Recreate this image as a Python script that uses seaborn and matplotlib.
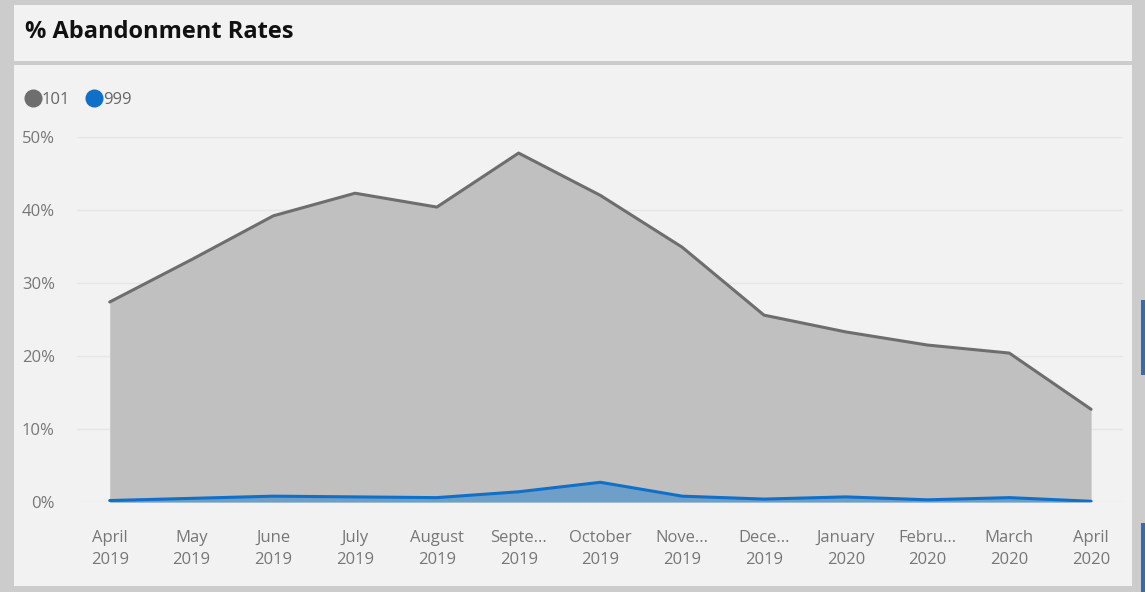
import pandas as pd
import seaborn as sns
import matplotlib.pyplot as plt
from matplotlib.patches import Rectangle
from matplotlib.lines import Line2D
from matplotlib.ticker import FuncFormatter

months = ["April\n2019", "May\n2019", "June\n2019", "July\n2019", "August\n2019",
          "Septe...\n2019", "October\n2019", "Nove...\n2019", "Dece...\n2019",
          "January\n2020", "Febru...\n2020", "March\n2020", "April\n2020"]
rate_101 = [27.4, 33.2, 39.2, 42.3, 40.4, 47.8, 42.0, 34.9, 25.6, 23.3, 21.5, 20.4, 12.7]
rate_999 = [0.2, 0.5, 0.8, 0.7, 0.6, 1.4, 2.7, 0.8, 0.4, 0.7, 0.3, 0.6, 0.1]
series_names = ["101", "999"]
series_colors = {"101": "#6e6e6e", "999": "#1070c8"}
fill_colors = {"101": "#c0c0c0", "999": "#6e9fc8"}

df = pd.DataFrame({
    "idx": list(range(len(months))) * 2,
    "rate": rate_101 + rate_999,
    "series": ["101"] * len(months) + ["999"] * len(months),
})

sns.set_theme(style="white")
plt.rcParams["font.family"] = ["Open Sans", "DejaVu Sans"]

W, H = 1145, 592
fig = plt.figure(figsize=(W / 100, H / 100), dpi=100)
fig.patch.set_facecolor("#cccccc")

# panels (pixel coordinates from top-left)
def px_rect(x0, y0, x1, y1, color, **kw):
    fig.patches.append(Rectangle((x0 / W, 1 - y1 / H), (x1 - x0) / W, (y1 - y0) / H,
                                 transform=fig.transFigure, facecolor=color,
                                 edgecolor="none", zorder=-5, **kw))

px_rect(14, 5, 1132, 61, "#f2f2f2")
px_rect(14, 65, 1132, 586, "#f2f2f2")
px_rect(1141, 300, 1145, 375, "#2f6db5")
px_rect(1141, 523, 1145, 592, "#2f6db5")

fig.text(25 / W, 1 - 32 / H, "% Abandonment Rates", fontsize=17, fontweight="bold",
         color="#111111", va="center", ha="left")

ax = fig.add_axes([77 / W, 1 - 502 / H, (1123 - 77) / W, (502 - 137) / H])
ax.set_zorder(5)
ax.set_facecolor("none")

for name in series_names:
    sub = df[df["series"] == name]
    ax.fill_between(sub["idx"], 0, sub["rate"], color=fill_colors[name], lw=0,
                    zorder=1 if name == "101" else 2)

sns.lineplot(data=df, x="idx", y="rate", hue="series", palette=series_colors,
             linewidth=2.2, legend=False, ax=ax, zorder=3)

ax.set_xlim(-0.4, 12.39)
ax.set_ylim(0, 50)
ax.set_yticks([0, 10, 20, 30, 40, 50])
ax.yaxis.set_major_formatter(FuncFormatter(lambda v, p: f"{v:.0f}%"))
ax.set_xticks(range(len(months)))
ax.set_xticklabels(months, linespacing=1.55)
ax.tick_params(axis="both", colors="#777777", labelsize=12, length=0)
ax.tick_params(axis="x", pad=20)
ax.tick_params(axis="y", pad=16)
ax.grid(axis="y", color="#e6e6e6", linewidth=1)
ax.set_axisbelow(True)
for s in ax.spines.values():
    s.set_visible(False)
ax.set_xlabel("")
ax.set_ylabel("")

handles = [Line2D([], [], marker="o", linestyle="none", markersize=13,
                  markerfacecolor=series_colors[n], markeredgecolor="none")
           for n in series_names]
fig.legend(handles, series_names, loc="center left", bbox_to_anchor=(16 / W, 1 - 100 / H),
           ncol=2, frameon=False, handletextpad=-0.05, columnspacing=0.8,
           fontsize=12, labelcolor="#666666", handlelength=1.2, borderaxespad=0)

fig.savefig("out.png", dpi=100, facecolor=fig.get_facecolor())
